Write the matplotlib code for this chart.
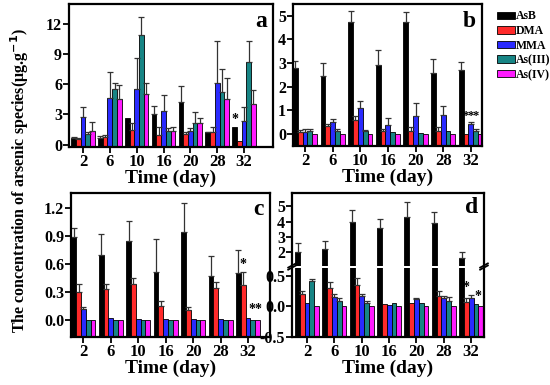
import matplotlib
matplotlib.use('Agg')
import matplotlib.pyplot as plt
import numpy as np

plt.rcParams['font.family'] = ['Liberation Serif', 'DejaVu Serif']
plt.rcParams['font.weight'] = 'bold'
plt.rcParams['axes.labelweight'] = 'bold'

days = ['2', '6', '10', '16', '20', '28', '32']
species = ['AsB', 'DMA', 'MMA', 'As(III)', 'As(IV)']
colors = ['#000000', '#ff2a2a', '#2a2aff', '#178585', '#ff1aff']

# panel a  (rows: AsB, DMA, MMA, As(III), As(IV))
a_mean = [[0.67, 0.67, 2.6, 3.0, 4.23, 1.2, 1.77],
          [0.57, 0.77, 1.43, 1.0, 1.1, 1.27, 0.4],
          [2.7, 4.6, 5.53, 3.33, 1.33, 6.1, 2.37],
          [1.03, 5.5, 10.9, 1.3, 2.13, 5.23, 8.2],
          [1.33, 4.53, 5.0, 1.3, 2.1, 4.5, 4.07]]
a_err = [[0.1, 0.15, 0.0, 0.83, 1.6, 0.05, 0.0],
         [0.1, 0.23, 0.67, 0.77, 0.1, 0.5, 0.0],
         [1.0, 2.57, 3.07, 1.6, 0.27, 4.17, 1.33],
         [0.24, 0.67, 1.8, 0.3, 1.07, 2.27, 2.1],
         [0.94, 1.37, 1.1, 0.47, 0.5, 2.17, 1.36]]

# panel b
b_mean = [[2.8, 2.45, 4.75, 2.93, 4.73, 2.6, 2.7],
          [0.1, 0.35, 0.6, 0.12, 0.15, 0.15, 0.0],
          [0.1, 0.52, 1.1, 0.4, 0.77, 0.8, 0.43],
          [0.12, 0.15, 0.15, 0.08, 0.05, 0.15, 0.15],
          [0.0, 0.0, 0.0, 0.0, 0.0, 0.0, 0.0]]
b_err = [[0.28, 0.57, 0.43, 0.62, 0.43, 0.55, 0.35],
         [0.08, 0.08, 0.15, 0.1, 0.15, 0.15, 0.0],
         [0.1, 0.12, 0.3, 0.3, 0.53, 0.38, 0.07],
         [0.08, 0.05, 0.04, 0.0, 0.0, 0.0, 0.05],
         [0.0, 0.0, 0.0, 0.0, 0.0, 0.0, 0.0]]

# panel c
c_mean = [[0.89, 0.70, 0.85, 0.51, 0.94, 0.47, 0.505],
          [0.30, 0.33, 0.39, 0.15, 0.11, 0.34, 0.38],
          [0.115, 0.02, 0.015, 0.015, 0.015, 0.01, 0.02],
          [0.0, 0.0, 0.0, 0.0, 0.0, 0.0, 0.0],
          [0.0, 0.0, 0.0, 0.0, 0.0, 0.0, 0.0]]
c_err = [[0.09, 0.22, 0.21, 0.36, 0.31, 0.22, 0.245],
         [0.09, 0.06, 0.06, 0.05, 0.03, 0.07, 0.13],
         [0.02, 0.0, 0.0, 0.0, 0.0, 0.0, 0.0],
         [0.0, 0.0, 0.0, 0.0, 0.0, 0.0, 0.0],
         [0.0, 0.0, 0.0, 0.0, 0.0, 0.0, 0.0]]

# panel d
d_mean = [[2.0, 2.2, 4.0, 3.6, 4.33, 3.9, 1.6],
          [0.2, 0.3, 0.34, 0.04, 0.05, 0.16, 0.07],
          [0.06, 0.15, 0.16, 0.015, 0.12, 0.13, 0.13],
          [0.41, 0.09, 0.05, 0.05, 0.06, 0.09, 0.04],
          [0.0, 0.0, 0.0, 0.0, 0.0, 0.0, 0.0]]
d_err = [[0.6, 0.5, 0.74, 0.6, 0.95, 0.7, 0.36],
         [0.05, 0.09, 0.12, 0.0, 0.0, 0.08, 0.06],
         [0.0, 0.05, 0.04, 0.0, 0.01, 0.04, 0.06],
         [0.03, 0.04, 0.03, 0.0, 0.0, 0.06, 0.0],
         [0.0, 0.0, 0.0, 0.0, 0.0, 0.0, 0.0]]

w = 0.175
x = np.arange(len(days))


def bars(ax, mean, err, ymin, rows=range(5), with_err=True):
    for i in rows:
        m = np.array(mean[i])
        e = np.array(err[i])
        xs = x + (i - 2) * w
        ax.bar(xs, m - ymin, w, bottom=ymin, color=colors[i],
               edgecolor='black', linewidth=0.6, label=species[i])
        if with_err:
            k = e > 0
            ax.errorbar(xs[k], m[k], yerr=[np.zeros(k.sum()), e[k]], fmt='none',
                        ecolor='#333333', elinewidth=0.9, capsize=2, capthick=0.9)


def style(ax, xlim, ylim, yticks, fmt, xaxis=True):
    ax.set_xlim(*xlim)
    ax.set_ylim(*ylim)
    ax.set_yticks(yticks)
    ax.set_yticklabels([fmt.format(v) for v in yticks])
    for s in ax.spines.values():
        s.set_linewidth(1.6)
    ax.tick_params(axis='y', direction='out', length=4, width=1.3, labelsize=11.5, pad=1)
    if xaxis:
        ax.set_xticks(x)
        ax.set_xticklabels(days)
        ax.tick_params(axis='x', direction='out', length=4, width=1.3, labelsize=12, pad=1)
        ax.set_xlabel('Time (day)', fontsize=14, fontweight='bold', labelpad=0)
    else:
        ax.set_xticks([])


fig = plt.figure(figsize=(5.5, 3.85), dpi=100)

# a
ax_a = fig.add_axes([0.1255, 0.618, 0.371, 0.372])
bars(ax_a, a_mean, a_err, -0.25)
style(ax_a, (-0.52, 7.08), (-0.25, 14), [0, 3, 6, 9, 12], '{:d}')
ax_a.text(0.97, 0.95, 'a', transform=ax_a.transAxes, ha='right', va='top', fontsize=17)
ax_a.text(x[6] - 2 * w, 1.85, '*', ha='center', va='bottom', fontsize=10)

# b
ax_b = fig.add_axes([0.533, 0.621, 0.343, 0.369])
bars(ax_b, b_mean, b_err, -0.5)
style(ax_b, (-0.43, 6.4), (-0.5, 5.5), [0, 1, 2, 3, 4, 5], '{:d}')
ax_b.text(0.97, 0.95, 'b', transform=ax_b.transAxes, ha='right', va='top', fontsize=17)
for j in (1, 2, 3):
    ax_b.text(x[6] + (j - 2) * w * 1.1, 0.5, '*', ha='center', va='bottom', fontsize=9)
ax_b.legend(loc='upper left', bbox_to_anchor=(0.895, 0.985), bbox_transform=fig.transFigure,
            frameon=False, fontsize=8.5, handlelength=1.5, handleheight=0.6,
            handletextpad=0.1, labelspacing=0.22, borderaxespad=0)

# c
ax_c = fig.add_axes([0.129, 0.125, 0.362, 0.374])
bars(ax_c, c_mean, c_err, -0.18)
style(ax_c, (-0.45, 6.8), (-0.18, 1.36), [0.0, 0.3, 0.6, 0.9, 1.2], '{:.1f}')
ax_c.text(0.97, 0.96, 'c', transform=ax_c.transAxes, ha='right', va='top', fontsize=17)
ax_c.text(x[6] - w, 0.52, '*', ha='center', va='bottom', fontsize=10)
ax_c.text(x[6] + 1.5 * w, 0.04, '**', ha='center', va='bottom', fontsize=10)

# d (broken y axis)
ax_d1 = fig.add_axes([0.531, 0.309, 0.349, 0.190])
ax_d2 = fig.add_axes([0.531, 0.125, 0.349, 0.180])
bars(ax_d1, d_mean, d_err, 1.05, rows=[0])
bars(ax_d2, d_mean, d_err, -0.5, rows=[0], with_err=False)
bars(ax_d2, d_mean, d_err, -0.5, rows=[1, 2, 3, 4])
style(ax_d1, (-0.55, 6.47), (1.05, 5.9), [2, 3, 4, 5], '{:d}', xaxis=False)
style(ax_d2, (-0.55, 6.47), (-0.5, 0.63), [-0.5, 0.0, 0.5], '{:.1f}')
ax_d1.spines['bottom'].set_visible(False)
ax_d2.spines['top'].set_visible(False)
ax_d1.text(0.97, 0.95, 'd', transform=ax_d1.transAxes, ha='right', va='top', fontsize=17)
ax_d2.text(x[6] - w, 0.2, '*', ha='center', va='bottom', fontsize=10)
ax_d2.text(x[6] + 1.5 * w, 0.06, '*', ha='center', va='bottom', fontsize=10)
for xx in (0, 1):
    ax_d2.plot([xx - 0.02, xx + 0.02], [1.0, 1.06], color='black', lw=1.3,
               transform=ax_d2.transAxes, clip_on=False)
    ax_d2.plot([xx - 0.02, xx + 0.02], [0.97, 1.03], color='black', lw=1.3,
               transform=ax_d2.transAxes, clip_on=False)

fig.text(0.035, 0.53, 'The concentration of arsenic species(\u03bcg.g$^{\\mathbf{-1}}$)',
         rotation=90, ha='center', va='center', fontsize=11.5)

plt.savefig('out.png', dpi=100)
